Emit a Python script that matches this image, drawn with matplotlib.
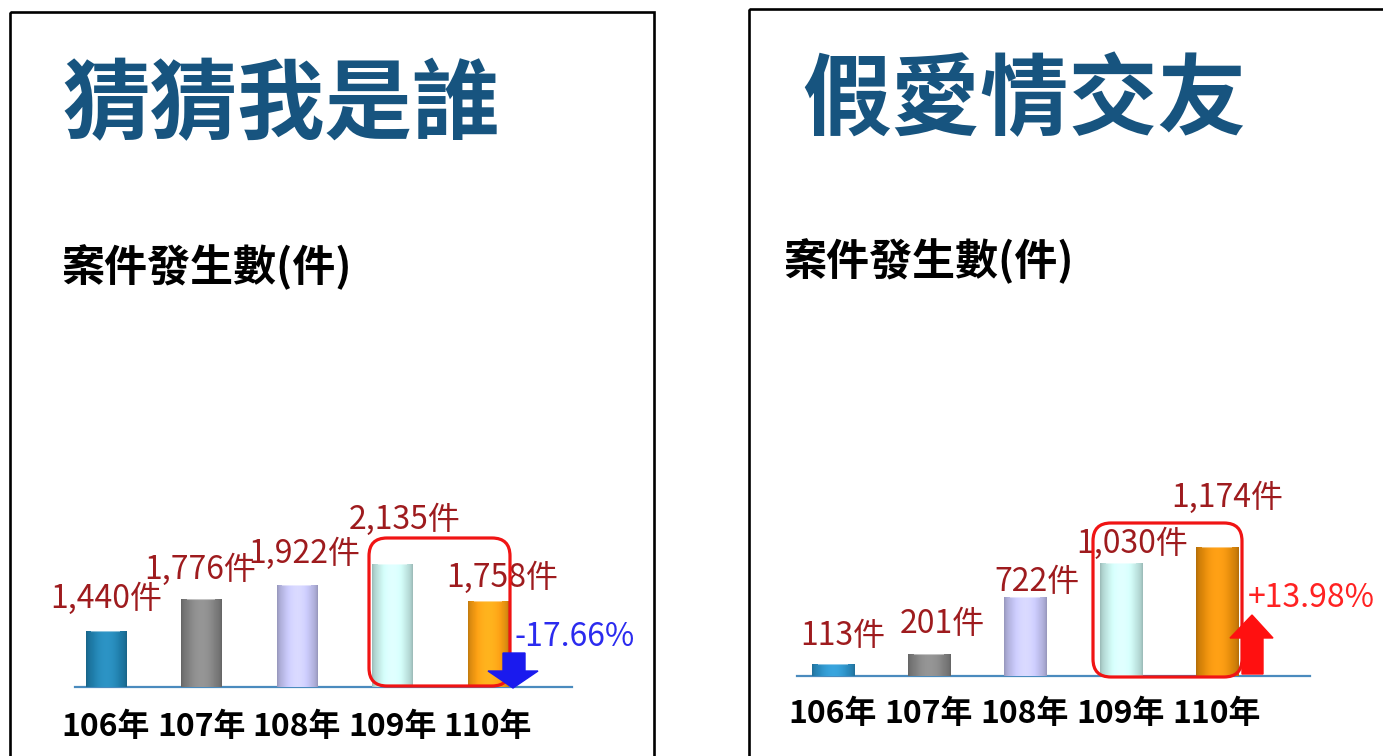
import matplotlib

matplotlib.use("Agg")
import matplotlib.pyplot as plt
import matplotlib.transforms as mtransforms
import numpy as np
from matplotlib.colors import to_rgb
from matplotlib.patches import FancyBboxPatch, Polygon, Rectangle

# --- data ---
years = ["106年", "107年", "108年", "109年", "110年"]

left_title = "猜猜我是誰"
left_cases = [1440, 1776, 1922, 2135, 1758]
left_change = "-17.66%"

right_title = "假愛情交友"
right_cases = [113, 201, 722, 1030, 1174]
right_change = "+13.98%"

subtitle = "案件發生數(件)"

# --- style ---
W, H = 1383, 756
FONT = ["Noto Sans CJK TC", "DejaVu Sans"]
TITLE_COLOR = "#17547f"
VALUE_COLOR = "#9e1b1e"
BASE_COLOR = "#4a8bbe"
BOX_COLOR = "#f01414"
bar_colors = ["#1f7daa", "#7f7f7f", "#bdbdeb", "#c3eae6", "#f39a12"]
right_bar_colors = ["#2a8cc0", "#7f7f7f", "#bdbdeb", "#c3eae6", "#e0890a"]

fig = plt.figure(figsize=(W / 100, H / 100), dpi=100)
fig.patch.set_facecolor("white")

# pixel transform, y measured from the top
px = mtransforms.Affine2D().scale(1, -1).translate(0, H)


def add_axes_px(x0, x1, y_base, y_top):
    return fig.add_axes([x0 / W, (H - y_base) / H, (x1 - x0) / W, (y_base - y_top) / H])


def shade(color, n=40):
    r, g, b = to_rgb(color)
    t = np.linspace(0, 1, n)
    f = 0.8 + 0.3 * np.sin(np.pi * t) ** 0.6
    row = np.clip(np.stack([r * f, g * f, b * f], axis=1) + (f - 1).clip(0)[:, None] * 0.4, 0, 1)
    return row[None, :, :]


def draw_panel(ax, values, colors, ylim, xlim, width, offsets, pad):
    x = np.arange(len(values))
    bars = ax.bar(x, values, width=width, color=colors, edgecolor="none", zorder=2)
    for b, c in zip(bars, colors):
        x0, y0 = b.get_x(), ylim[0]
        im = ax.imshow(shade(c), extent=[x0, x0 + b.get_width(), y0, b.get_height()],
                       aspect="auto", zorder=3, interpolation="bicubic")
        im.set_clip_path(b)
        ax.plot([x0 + 0.06, x0 + b.get_width() - 0.06], [b.get_height()] * 2,
                color="white", alpha=0.45, lw=1.5, zorder=4, solid_capstyle="butt")
    ax.set_xlim(*xlim)
    ax.set_ylim(*ylim)
    for v, xi, (dx, dy) in zip(values, x, offsets):
        ax.annotate(f"{v:,}件", xy=(xi, v), xytext=(dx, dy), textcoords="offset pixels",
                    ha="center", va="center", fontsize=23, color=VALUE_COLOR,
                    family=FONT, annotation_clip=False, zorder=5)
    ax.set_xticks(x, years, fontsize=23, fontweight="bold", family=FONT)
    ax.tick_params(axis="x", length=0, pad=pad)
    ax.set_yticks([])
    for s in ("top", "left", "right"):
        ax.spines[s].set_visible(False)
    ax.spines["bottom"].set_color(BASE_COLOR)
    ax.spines["bottom"].set_linewidth(1.6)
    ax.patch.set_alpha(0)


# left chart (value axis starts above zero, as in the slide)
axL = add_axes_px(75, 572, 687, 480)
draw_panel(axL, left_cases, bar_colors, ylim=(866, 866 + 207 / 0.0968), xlim=(-0.32, 4.88),
           width=0.42, offsets=[(1, 33), (-1, 29), (8, 31), (12, 44), (14, 23)], pad=17)

# right chart
axR = add_axes_px(797, 1310, 676, 476)
draw_panel(axR, right_cases, right_bar_colors, ylim=(0, 200 / 0.11), xlim=(-0.375, 4.97),
           width=0.44, offsets=[(10, 28), (13, 30), (12, 15), (11, 19), (10, 49)], pad=16)

# panel frames
for x0, y0 in [(10, 12), (749, 9)]:
    fig.patches.append(Rectangle((x0, y0), 644 if x0 < 100 else 700, 800, transform=px,
                                 fill=False, edgecolor="black", linewidth=1.9))

# titles
fig.text(62, 107, left_title, transform=px, ha="left", va="center", fontsize=63,
         fontweight="bold", color=TITLE_COLOR, family=FONT)
fig.text(802, 102, right_title, transform=px, ha="left", va="center", fontsize=64,
         fontweight="bold", color=TITLE_COLOR, family=FONT)
fig.text(61, 267, subtitle, transform=px, ha="left", va="center", fontsize=31,
         fontweight="bold", color="black", family=FONT)
fig.text(783, 261, subtitle, transform=px, ha="left", va="center", fontsize=31,
         fontweight="bold", color="black", family=FONT)

# highlight boxes
for x0, y0, x1, y1 in [(369, 538, 510, 686), (1093, 523, 1242, 677)]:
    fig.patches.append(FancyBboxPatch((x0, y0), x1 - x0, y1 - y0, transform=px,
                                      boxstyle="round,pad=0,rounding_size=18",
                                      fill=False, edgecolor=BOX_COLOR, linewidth=2.3, zorder=6))

# change arrows
down = [(503, 653), (525, 653), (525, 671), (538, 671), (513, 688), (488, 671), (503, 671)]
up = [(1242, 674), (1263, 674), (1263, 638), (1273, 638), (1252, 615), (1230, 638), (1242, 638)]
fig.patches.append(Polygon(down, closed=True, transform=px, color="#1a1aee", zorder=7))
fig.patches.append(Polygon(up, closed=True, transform=px, color="#ff1010", zorder=7))

fig.text(575, 637, left_change, transform=px, ha="center", va="center", fontsize=23,
         color="#2b2bef", family=FONT)
fig.text(1311, 598, right_change, transform=px, ha="center", va="center", fontsize=23,
         color="#ff2222", family=FONT)

fig.savefig("out.png", dpi=100, facecolor="white")
